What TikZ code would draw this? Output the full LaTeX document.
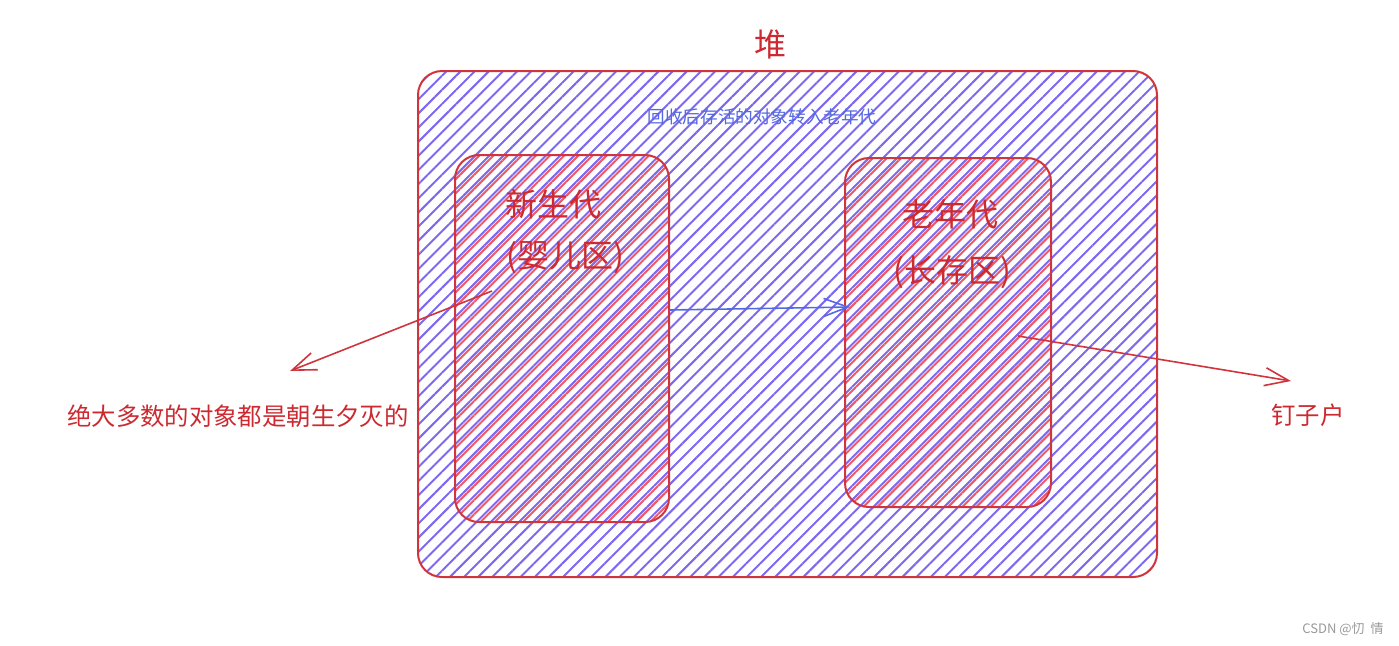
\documentclass[tikz,border=0pt]{standalone}
\usepackage{fontspec}
\setmainfont{Noto Sans CJK SC}
\usetikzlibrary{patterns.meta,arrows.meta}
\definecolor{heapred}{RGB}{208,52,60}
\definecolor{hatchblue}{RGB}{125,105,240}
\definecolor{hatchred}{RGB}{238,88,104}
\definecolor{notered}{RGB}{204,42,48}
\definecolor{noteblue}{RGB}{84,104,224}
\tikzset{
  area/.style={draw=heapred, line width=1pt, rounded corners=12pt, inner sep=0pt},
  bluehatch/.style={pattern={Lines[angle=45,distance=5pt,line width=1pt]}, pattern color=hatchblue},
  redhatch/.style={pattern={Lines[angle=45,distance=5pt,xshift=2pt,line width=1pt]}, pattern color=hatchred},
  big/.style={text=notered, font=\fontsize{16pt}{19pt}\selectfont},
  note/.style={text=notered, font=\fontsize{12.2pt}{14pt}\selectfont},
  hint/.style={text=noteblue, font=\fontsize{8.8pt}{10pt}\selectfont},
  barb/.style={-{Straight Barb[length=12pt,width=9pt]}, line width=0.8pt},
}
\begin{document}
\begin{tikzpicture}[x=0.5pt,y=-0.5pt]
  \useasboundingbox (0,0) rectangle (1399,645);
  % heap and its two regions
  \node[area, bluehatch, minimum width=369.5pt, minimum height=253pt] (heap) at (787.5,324) {};
  \node[area, redhatch, minimum width=107pt, minimum height=183.5pt] (young) at (562,338.5) {};
  \node[area, redhatch, minimum width=103pt, minimum height=174.5pt] (old) at (948,332.5) {};
  \node[big] (heaplabel) at (770,44) {堆};
  \node[hint] (move) at (762,117) {回收后存活的对象转入老年代};
  \node[big] (younglabel) at (553,204) {新生代};
  \node[big] (youngsub) at (565,258) {(婴儿区)};
  \node[big] (oldlabel) at (950,214) {老年代};
  \node[big] (oldsub) at (952,272) {(长存区)};
  % notes outside the heap
  \node[note] (shortlived) at (238,416) {绝大多数的对象都是朝生夕灭的};
  \node[note] (nailhouse) at (1308,415) {钉子户};
  \node[text=black!40, font=\fontsize{6.5pt}{8pt}\selectfont] (mark) at (1343,629) {CSDN @忉\ \ 情};
  % arrows
  \coordinate (youngout) at (669,310);
  \coordinate (oldin) at (850,307);
  \coordinate (youngin) at (492,291);
  \coordinate (leftend) at (290,371);
  \coordinate (oldout) at (1018,336);
  \coordinate (rightend) at (1291,381);
  \draw[barb, noteblue] (youngout) -- (oldin);
  \draw[barb, heapred] (youngin) -- (leftend);
  \draw[barb, heapred] (oldout) -- (rightend);
\end{tikzpicture}
\end{document}
